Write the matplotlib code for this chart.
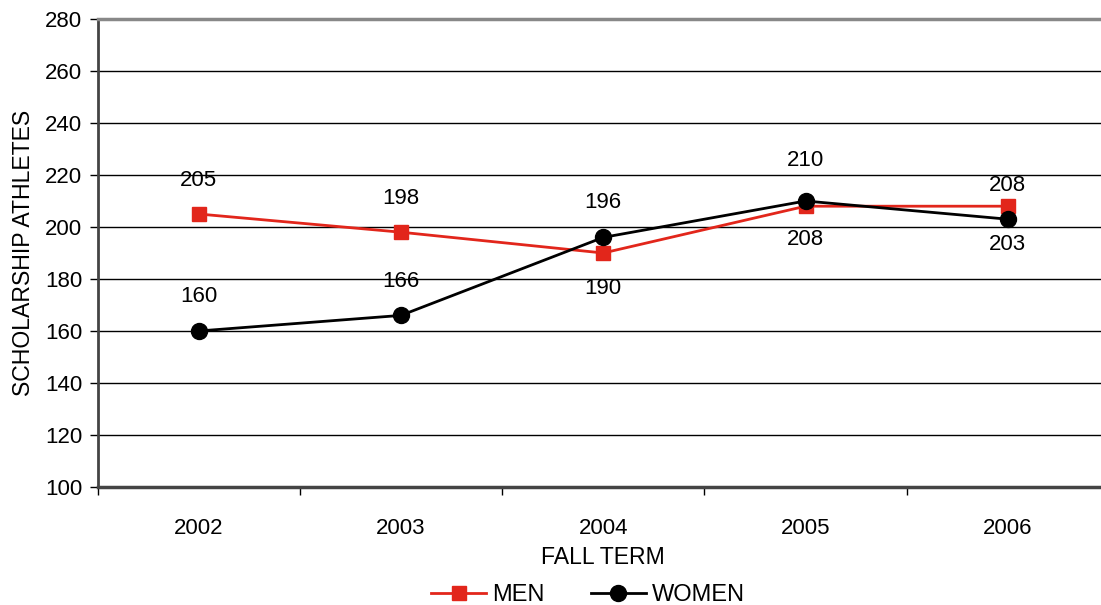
import matplotlib
matplotlib.use("Agg")
import matplotlib.pyplot as plt
from matplotlib.ticker import FixedLocator, NullFormatter

plt.rcParams['font.family'] = ['Liberation Sans', 'DejaVu Sans']

years = ['2002', '2003', '2004', '2005', '2006']
men = [205, 198, 190, 208, 208]
women = [160, 166, 196, 210, 203]
men_label_offsets = [33, 34, -36, -33, 21]
women_label_offsets = [34, 34, 35, 40, -25]

FS = 16

fig = plt.figure(figsize=(11.01, 6.05), dpi=100)
ax = fig.add_axes([97.5/1101, 118/605, (1109-97.5)/1101, 468/605])

x = list(range(len(years)))
red = '#E2261B'
ax.plot(x, men, color=red, lw=2, marker='s', markersize=10, label='MEN', zorder=3)
ax.plot(x, women, color='black', lw=2, marker='o', markersize=11.5, label='WOMEN', zorder=4)

for xi, v, off in zip(x, men, men_label_offsets):
    ax.annotate(str(v), (xi, v), xytext=(0, off), textcoords='offset pixels',
                ha='center', va='center', fontsize=FS)
for xi, v, off in zip(x, women, women_label_offsets):
    ax.annotate(str(v), (xi, v), xytext=(0, off), textcoords='offset pixels',
                ha='center', va='center', fontsize=FS)

ax.set_xlim(-0.5, 4.5)
ax.set_ylim(100, 280)
ax.set_yticks(range(100, 281, 20))
ax.set_xticks(x)
ax.set_xticklabels(years)
ax.xaxis.set_minor_locator(FixedLocator([-0.5, 0.5, 1.5, 2.5, 3.5, 4.5]))
ax.xaxis.set_minor_formatter(NullFormatter())
ax.tick_params(axis='x', which='major', length=0, pad=22, labelsize=FS)
ax.tick_params(axis='x', which='minor', length=6, width=1, color='black', direction='out')
ax.tick_params(axis='y', length=6, width=1, direction='out', pad=5, labelsize=FS)

ax.yaxis.grid(True, color='black', lw=1)
ax.set_axisbelow(True)
ax.spines['right'].set_visible(False)
ax.spines['top'].set_color('#888888')
ax.spines['top'].set_linewidth(2.5)
ax.spines['left'].set_color('#444444')
ax.spines['left'].set_linewidth(2)
ax.spines['bottom'].set_color('#444444')
ax.spines['bottom'].set_linewidth(2.5)

ax.set_xlabel('FALL TERM', fontsize=16.6, labelpad=5)
ax.set_ylabel('SCHOLARSHIP ATHLETES', fontsize=16.6, labelpad=7)

fig.legend(loc='center', bbox_to_anchor=(588/1101, 1 - 595/605), ncol=2, frameon=False,
           fontsize=17, handlelength=2.3, columnspacing=2.0, handletextpad=0.25)

fig.savefig('out.png', dpi=100)
